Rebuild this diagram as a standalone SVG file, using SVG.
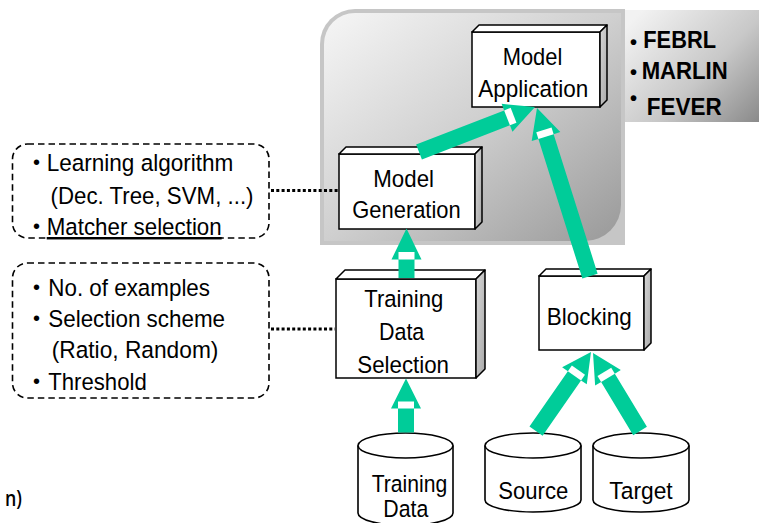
<svg xmlns="http://www.w3.org/2000/svg" width="759" height="523" viewBox="0 0 759 523">
<defs>
<style>
.t{font-family:"Liberation Sans",Arial,sans-serif;font-size:24.5px;fill:#000}
.bl{font-family:"Liberation Sans",Arial,sans-serif;font-size:20px;fill:#000}
.bb{font-family:"Liberation Sans",Arial,sans-serif;font-size:23px;font-weight:bold;fill:#000}
.front{fill:#fff;stroke:#000;stroke-width:1.5}
.top{fill:#fff;stroke:#000;stroke-width:1.5;stroke-linejoin:round}
.side{fill:url(#sideG);stroke:#000;stroke-width:1.5;stroke-linejoin:round}
.cyl{fill:#fff;stroke:#000;stroke-width:1.6}
.dash{fill:none;stroke:#000;stroke-width:1.6;stroke-dasharray:6.5,4}
.dot{fill:none;stroke:#000;stroke-width:3;stroke-dasharray:3,2.3}
.arr{fill:#00CC99}
.gap{fill:#fff}
</style>
<linearGradient id="panelG" x1="0" y1="0" x2="1" y2="1">
<stop offset="0" stop-color="#f6f6f6"/>
<stop offset="0.5" stop-color="#cfcfcf"/>
<stop offset="1" stop-color="#999"/>
</linearGradient>
<linearGradient id="rightG" x1="0" y1="0.2" x2="1" y2="1">
<stop offset="0" stop-color="#f2f2f2"/>
<stop offset="0.55" stop-color="#c8c8c8"/>
<stop offset="1" stop-color="#8a8a8a"/>
</linearGradient>
<linearGradient id="sideG" x1="0" y1="0" x2="1" y2="1">
<stop offset="0" stop-color="#d8d8d8"/>
<stop offset="1" stop-color="#a8a8a8"/>
</linearGradient>
</defs>

<g id="panel-tools">
<rect x="620" y="10" width="139" height="112" fill="url(#rightG)"/>
<text class="bl" style="font-weight:bold" x="630" y="49">•</text>
<text class="bb" x="643.3" y="48.3" textLength="72.7" lengthAdjust="spacingAndGlyphs">FEBRL</text>
<text class="bl" style="font-weight:bold" x="630" y="79">•</text>
<text class="bb" x="641.7" y="79" textLength="86" lengthAdjust="spacingAndGlyphs">MARLIN</text>
<text class="bl" style="font-weight:bold" x="630" y="104.6">•</text>
<text class="bb" x="646.7" y="115" textLength="75" lengthAdjust="spacingAndGlyphs">FEVER</text>
</g>

<g id="panel">
<path d="M355,9 L625,9 L625,245 L320,245 L320,44 A35,35 0 0 1 355,9 Z" fill="#c6c6c6"/>
<path d="M355,13 L621,13 L621,205 A36,36 0 0 1 585,241 L324,241 L324,44 A31,31 0 0 1 355,13 Z" fill="url(#panelG)"/>
</g>

<g id="params-generation">
<rect class="dash" x="12.5" y="144" width="256.5" height="94" rx="15" ry="15"/>
<text class="bl" x="33" y="169">•</text>
<text class="t" x="46.7" y="171" textLength="186.6" lengthAdjust="spacingAndGlyphs">Learning algorithm</text>
<text class="t" x="50.5" y="204" textLength="203" lengthAdjust="spacingAndGlyphs">(Dec. Tree, SVM, ...)</text>
<text class="bl" x="33" y="232.5">•</text>
<text class="t" x="46.7" y="235" textLength="175" lengthAdjust="spacingAndGlyphs" text-decoration="underline">Matcher selection</text>
</g>

<g id="params-selection">
<rect class="dash" x="12.5" y="263" width="256.5" height="135" rx="15" ry="15"/>
<text class="bl" x="33" y="293.5">•</text>
<text class="t" x="48.3" y="295.5" textLength="161.7" lengthAdjust="spacingAndGlyphs">No. of examples</text>
<text class="bl" x="33" y="324.5">•</text>
<text class="t" x="48.3" y="327" textLength="176.7" lengthAdjust="spacingAndGlyphs">Selection scheme</text>
<text class="t" x="51.7" y="358" textLength="166.7" lengthAdjust="spacingAndGlyphs">(Ratio, Random)</text>
<text class="bl" x="33" y="387.5">•</text>
<text class="t" x="48.3" y="390" textLength="98.4" lengthAdjust="spacingAndGlyphs">Threshold</text>
</g>

<g id="model-application">
<rect class="front" x="472" y="32" width="128" height="75"/>
<path class="top" d="M472,32 L479,25 L607,25 L600,32 Z"/>
<path class="side" d="M600,32 L607,25 L607,100 L600,107 Z"/>
<text class="t" x="502.7" y="65" textLength="59.6" lengthAdjust="spacingAndGlyphs">Model</text>
<text class="t" x="478.3" y="96.7" textLength="110" lengthAdjust="spacingAndGlyphs">Application</text>
</g>

<g id="model-generation">
<rect class="front" x="339" y="154" width="136" height="75"/>
<path class="top" d="M339,154 L346,147 L482,147 L475,154 Z"/>
<path class="side" d="M475,154 L482,147 L482,222 L475,229 Z"/>
<text class="t" x="373.3" y="186.7" textLength="60.7" lengthAdjust="spacingAndGlyphs">Model</text>
<text class="t" x="352.3" y="218.3" textLength="108.4" lengthAdjust="spacingAndGlyphs">Generation</text>
</g>

<g id="training-data-selection">
<rect class="front" x="336" y="279" width="140" height="99"/>
<path class="top" d="M336,279 L345,270 L485,270 L476,279 Z"/>
<path class="side" d="M476,279 L485,270 L485,369 L476,378 Z"/>
<text class="t" x="364.3" y="307.3" textLength="79" lengthAdjust="spacingAndGlyphs">Training</text>
<text class="t" x="379" y="340" textLength="45.3" lengthAdjust="spacingAndGlyphs">Data</text>
<text class="t" x="357.3" y="372.7" textLength="91.7" lengthAdjust="spacingAndGlyphs">Selection</text>
</g>

<g id="blocking">
<rect class="front" x="539" y="276" width="105" height="74"/>
<path class="top" d="M539,276 L546,269 L651,269 L644,276 Z"/>
<path class="side" d="M644,276 L651,269 L651,343 L644,350 Z"/>
<text class="t" x="546.7" y="325" textLength="85" lengthAdjust="spacingAndGlyphs">Blocking</text>
</g>

<g id="training-data">
<path class="cyl" d="M358,445.5 L358,513 A47.5,12.5 0 0 0 453,513 L453,445.5"/>
<ellipse class="cyl" cx="405.5" cy="445.5" rx="47.5" ry="12.5"/>
<text class="t" x="371.7" y="491.5" textLength="75.6" lengthAdjust="spacingAndGlyphs">Training</text>
<text class="t" x="383.3" y="517" textLength="45" lengthAdjust="spacingAndGlyphs">Data</text>
</g>

<g id="source">
<path class="cyl" d="M485,445.5 L485,500 A48,12 0 0 0 581,500 L581,445.5"/>
<ellipse class="cyl" cx="533" cy="445.5" rx="48" ry="12.5"/>
<text class="t" x="498.3" y="499.3" textLength="70" lengthAdjust="spacingAndGlyphs">Source</text>
</g>

<g id="target">
<path class="cyl" d="M593,445.5 L593,500 A48,12 0 0 0 689,500 L689,445.5"/>
<ellipse class="cyl" cx="641" cy="445.5" rx="48" ry="12.5"/>
<text class="t" x="609.3" y="499.3" textLength="63.4" lengthAdjust="spacingAndGlyphs">Target</text>
</g>

<g id="connectors">
<line class="dot" x1="271" y1="190.5" x2="338" y2="190.5"/>
<line class="dot" x1="271" y1="329" x2="335" y2="329"/>
<g transform="translate(535,107) rotate(68.8)">
<path class="arr" d="M0,0 L15,30 L8,30 L8,124.4 L-8,124.4 L-8,30 L-15,30 Z"/>
<rect class="gap" x="-8" y="23" width="16" height="7"/>
</g>
<g transform="translate(537,108) rotate(-17.5)">
<path class="arr" d="M0,0 L15,30 L8,30 L8,176.2 L-8,176.2 L-8,30 L-15,30 Z"/>
<rect class="gap" x="-8" y="23" width="16" height="7"/>
</g>
<g transform="translate(406.5,228.5)">
<path class="arr" d="M0,0 L15,31 L8,31 L8,49.5 L-8,49.5 L-8,31 L-15,31 Z"/>
<rect class="gap" x="-8" y="23.5" width="16" height="7.5"/>
</g>
<g transform="translate(406,378.5)">
<path class="arr" d="M0,0 L15,30 L8,30 L8,54 L-8,54 L-8,30 L-15,30 Z"/>
<rect class="gap" x="-8" y="23" width="16" height="7"/>
</g>
<g transform="translate(591,352) rotate(34.8)">
<path class="arr" d="M0,0 L15,29 L8,29 L8,96.3 L-8,96.3 L-8,29 L-15,29 Z"/>
<rect class="gap" x="-8" y="22" width="16" height="7"/>
</g>
<g transform="translate(593,353) rotate(-31.1)">
<path class="arr" d="M0,0 L15,29 L8,29 L8,91.1 L-8,91.1 L-8,29 L-15,29 Z"/>
<rect class="gap" x="-8" y="22" width="16" height="7"/>
</g>
</g>

<text x="5" y="505.5" font-family="'Open Sans','Liberation Sans',sans-serif" font-weight="600" font-size="21" textLength="17" lengthAdjust="spacingAndGlyphs">n)</text>
</svg>
